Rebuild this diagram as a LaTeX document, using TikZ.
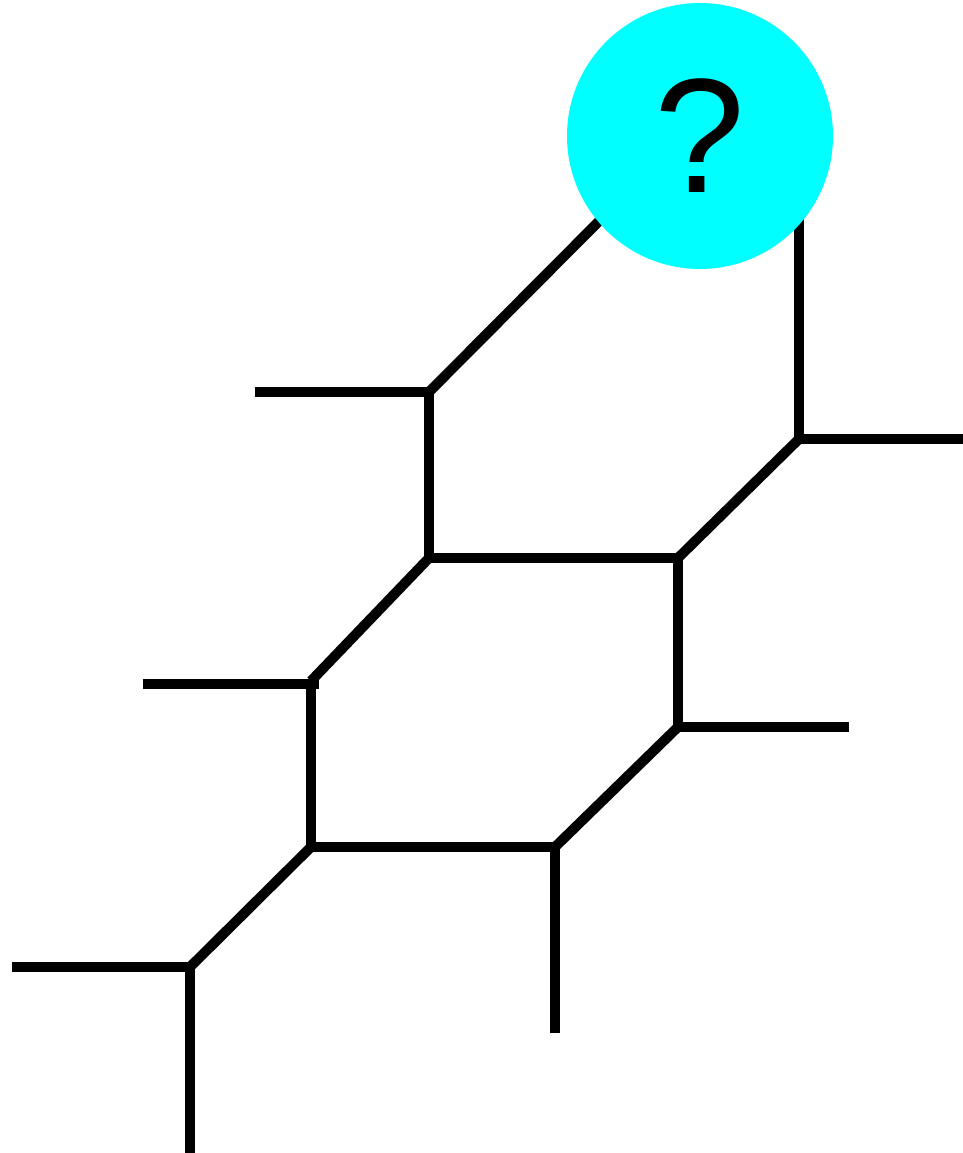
\documentclass[tikz,border=0pt]{standalone}
\usepackage{fontspec}
\setmainfont{Liberation Sans}
\definecolor{qcyan}{RGB}{0,255,255}
\begin{document}
\begin{tikzpicture}[x=1pt,y=-1pt,
  edge/.style={line width=10pt,line cap=butt,black},
  qball/.style={circle,fill=qcyan,draw=none,minimum size=266pt,inner sep=0pt,
    font=\fontsize{163}{163}\selectfont}]
\useasboundingbox (0,0) rectangle (963,1153);
% junctions
\coordinate (a) at (429,392);
\coordinate (b) at (799,439);
\coordinate (c) at (429,558);
\coordinate (d) at (678,558);
\coordinate (e) at (311,681);
\coordinate (f) at (678,727);
\coordinate (g) at (311,847);
\coordinate (h) at (555,847);
\coordinate (i) at (190,967);
% free ends
\coordinate (qa) at (640,180);
\coordinate (qb) at (799,200);
\coordinate (al) at (255,392);
\coordinate (br) at (963,439);
\coordinate (el) at (143,684);
\coordinate (er) at (319,684);
\coordinate (fr) at (849,727);
\coordinate (hb) at (555,1033);
\coordinate (il) at (12,967);
\coordinate (ib) at (190,1153);
% connectors
\draw[edge] (a) -- (qa);
\draw[edge] (b) -- (qb);
\draw[edge] (al) -- (a);
\draw[edge] (a) -- (c);
\draw[edge] (b) -- (br);
\draw[edge] (b) -- (d);
\draw[edge] (c) -- (d);
\draw[edge] (c) -- (e);
\draw[edge] (el) -- (er);
\draw[edge] (e) -- (g);
\draw[edge] (d) -- (f);
\draw[edge] (f) -- (fr);
\draw[edge] (f) -- (h);
\draw[edge] (g) -- (h);
\draw[edge] (h) -- (hb);
\draw[edge] (g) -- (i);
\draw[edge] (il) -- (i);
\draw[edge] (i) -- (ib);
% question ball
\node[qball] (q) at (700,136) {?};
\end{tikzpicture}
\end{document}
